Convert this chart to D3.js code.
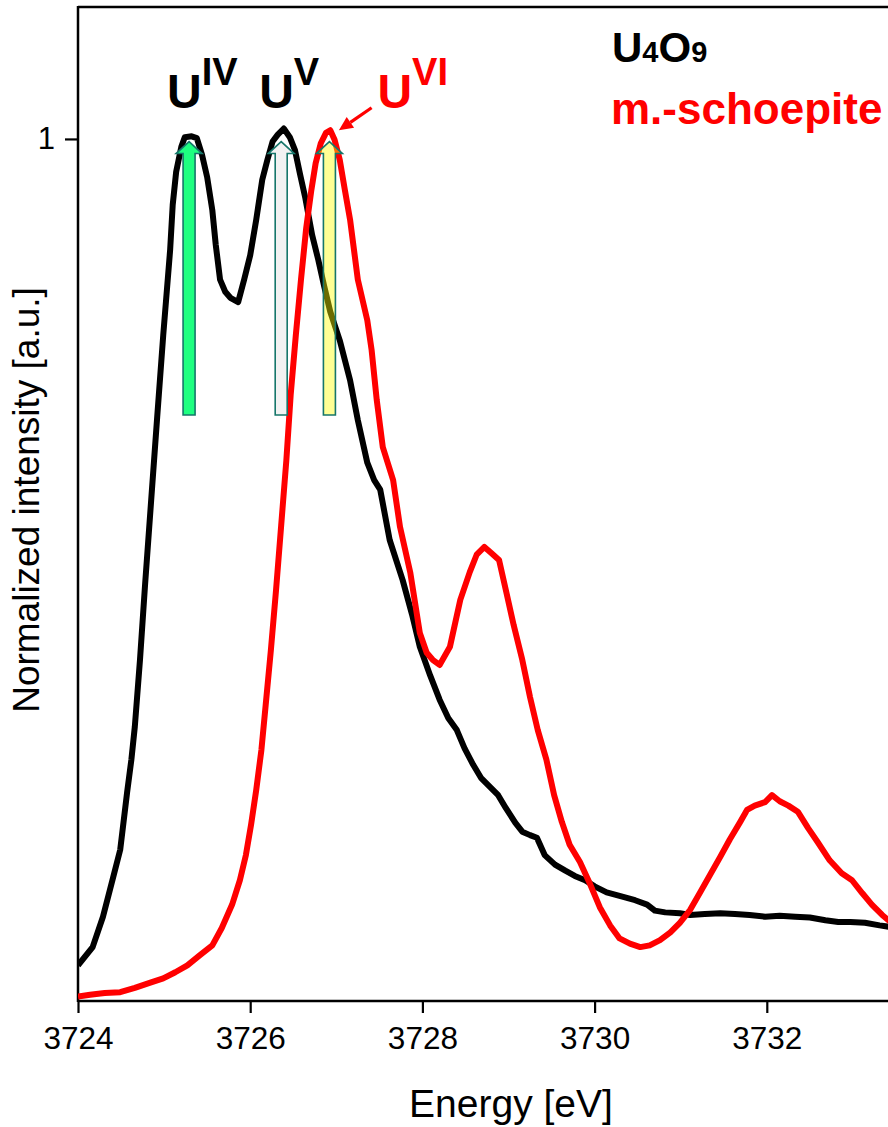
<!DOCTYPE html>
<html><head><meta charset="utf-8">
<script src="https://cdn.jsdelivr.net/npm/d3@7"></script>
<style>
html,body{margin:0;padding:0;background:#fff;}
svg{display:block;font-family:"Liberation Sans",Arial,Helvetica,sans-serif;}
</style></head><body>
<svg id="chart" width="888" height="1127"></svg>
<script>
// U4O9 spectrum (black)
const energyU4O9 = [3724.00,3724.17,3724.29,3724.41,3724.49,3724.57,3724.62,3724.66,3724.72,3724.78,3724.85,3724.92,3724.99,3725.07,3725.10,3725.14,3725.20,3725.24,3725.32,3725.38,3725.44,3725.50,3725.56,3725.60,3725.65,3725.71,3725.77,3725.86,3725.93,3726.00,3726.07,3726.14,3726.20,3726.26,3726.32,3726.39,3726.46,3726.52,3726.58,3726.64,3726.72,3726.79,3726.86,3726.93,3727.04,3727.16,3727.25,3727.36,3727.44,3727.51,3727.62,3727.77,3727.88,3727.97,3728.09,3728.20,3728.30,3728.40,3728.49,3728.59,3728.68,3728.79,3728.88,3728.97,3729.08,3729.16,3729.25,3729.33,3729.42,3729.54,3729.66,3729.77,3729.89,3730.00,3730.14,3730.29,3730.47,3730.61,3730.70,3730.82,3730.99,3731.11,3731.28,3731.46,3731.63,3731.80,3731.98,3732.15,3732.33,3732.50,3732.68,3732.83,3732.97,3733.14,3733.31,3733.45];
const intensityU4O9 = [0.048,0.069,0.104,0.150,0.181,0.247,0.285,0.323,0.400,0.488,0.584,0.680,0.774,0.872,0.924,0.962,0.991,1.002,1.003,1.001,0.982,0.956,0.918,0.878,0.838,0.824,0.817,0.812,0.838,0.866,0.907,0.953,0.976,0.997,1.005,1.012,1.002,0.987,0.959,0.932,0.889,0.861,0.830,0.801,0.768,0.722,0.676,0.627,0.607,0.596,0.538,0.492,0.452,0.415,0.382,0.354,0.333,0.319,0.298,0.279,0.264,0.253,0.244,0.229,0.212,0.202,0.198,0.195,0.175,0.164,0.157,0.151,0.146,0.139,0.132,0.128,0.123,0.118,0.111,0.109,0.108,0.106,0.107,0.108,0.107,0.106,0.104,0.105,0.104,0.103,0.100,0.098,0.098,0.097,0.094,0.092];

// metaschoepite spectrum (red)
const energySchoepite = [3724.00,3724.14,3724.31,3724.49,3724.66,3724.84,3724.99,3725.13,3725.27,3725.42,3725.56,3725.67,3725.79,3725.88,3725.95,3726.01,3726.07,3726.13,3726.18,3726.24,3726.30,3726.36,3726.42,3726.47,3726.53,3726.59,3726.65,3726.71,3726.76,3726.82,3726.88,3726.93,3726.98,3727.04,3727.10,3727.16,3727.25,3727.36,3727.41,3727.47,3727.54,3727.66,3727.74,3727.86,3727.97,3728.05,3728.12,3728.20,3728.32,3728.44,3728.55,3728.63,3728.72,3728.80,3728.89,3728.97,3729.06,3729.16,3729.25,3729.34,3729.44,3729.53,3729.62,3729.71,3729.83,3729.95,3730.06,3730.18,3730.29,3730.41,3730.53,3730.64,3730.76,3730.88,3730.99,3731.11,3731.22,3731.34,3731.46,3731.57,3731.69,3731.77,3731.86,3731.98,3732.06,3732.15,3732.25,3732.36,3732.48,3732.59,3732.73,3732.87,3732.99,3733.11,3733.22,3733.34,3733.45];
const intensitySchoepite = [0.012,0.014,0.016,0.017,0.022,0.028,0.033,0.040,0.048,0.060,0.071,0.091,0.118,0.146,0.175,0.210,0.250,0.296,0.348,0.411,0.480,0.555,0.630,0.705,0.774,0.838,0.897,0.941,0.972,0.995,1.007,1.010,0.999,0.976,0.941,0.907,0.838,0.791,0.757,0.699,0.645,0.607,0.553,0.500,0.431,0.408,0.400,0.394,0.415,0.469,0.501,0.521,0.530,0.523,0.515,0.480,0.440,0.400,0.357,0.319,0.285,0.244,0.213,0.187,0.167,0.141,0.115,0.094,0.079,0.073,0.069,0.071,0.077,0.086,0.097,0.112,0.131,0.152,0.173,0.193,0.213,0.227,0.232,0.236,0.244,0.237,0.232,0.225,0.206,0.190,0.169,0.154,0.146,0.131,0.118,0.106,0.097];

// axis ticks
const xTickValues = [3724, 3726, 3728, 3730, 3732];
const xMinorTicks = [3725, 3727, 3729, 3731, 3733];
const yTickValues = [1];
const yMinorTicks = [0.5];

// oxidation-state marker arrows (energy positions, base and tip intensity)
const stateNames = ["IV", "V", "VI"];
const stateEnergies = [3725.29, 3726.36, 3726.92];
const arrowBase = 0.682;
const arrowTip = 0.997;

// legend
const seriesNames = ["U4O9", "m.-schoepite"];

const svg = d3.select("#chart");
const plotLeft = 78, plotTop = 7, plotBottom = 1001;
const FONT = '"Liberation Sans",Arial,Helvetica,sans-serif';

const x = d3.scaleLinear().domain([3724, 3734]).range([plotLeft, plotLeft + 861]);
const y = d3.scaleLinear().domain([0.0069, 1.152]).range([plotBottom, plotTop]);

svg.append("clipPath").attr("id", "plotClip")
  .append("rect").attr("x", plotLeft).attr("y", plotTop).attr("width", 900).attr("height", plotBottom - plotTop);

// frame top line
svg.append("line").attr("x1", plotLeft).attr("x2", 888).attr("y1", plotTop).attr("y2", plotTop)
  .attr("stroke", "#000").attr("stroke-width", 2.5);

// x axis
const xAxisG = svg.append("g").attr("transform", `translate(0,${plotBottom})`);
xAxisG.call(d3.axisBottom(x).tickValues(xMinorTicks).tickSize(7).tickFormat(""));
xAxisG.call(d3.axisBottom(x).tickValues(xTickValues).tickSize(12).tickPadding(14).tickFormat(d3.format("d")));
xAxisG.selectAll(".domain").remove();
xAxisG.append("line").attr("x1", plotLeft).attr("x2", 888).attr("stroke", "#000").attr("stroke-width", 2.5);
xAxisG.selectAll(".tick line").attr("stroke", "#000").attr("stroke-width", 2.2);
xAxisG.selectAll(".tick text").attr("font-size", 31.5).attr("font-family", FONT).attr("fill", "#000");

// y axis
const yAxisG = svg.append("g").attr("transform", `translate(${plotLeft},0)`);
yAxisG.call(d3.axisLeft(y).tickValues(yMinorTicks).tickSize(6).tickFormat(""));
yAxisG.call(d3.axisLeft(y).tickValues(yTickValues).tickSize(13).tickPadding(10).tickFormat(d3.format("d")));
yAxisG.selectAll(".domain").remove();
yAxisG.append("line").attr("y1", plotTop - 1).attr("y2", plotBottom + 1).attr("stroke", "#000").attr("stroke-width", 2.5);
yAxisG.selectAll(".tick line").attr("stroke", "#000").attr("stroke-width", 2.2);
yAxisG.selectAll(".tick text").attr("font-size", 31).attr("font-family", FONT).attr("fill", "#000");

// axis titles
svg.append("text").attr("x", 511).attr("y", 1117).attr("text-anchor", "middle")
  .attr("font-size", 39).attr("fill", "#000").text("Energy [eV]");
svg.append("text").attr("transform", "translate(39,500) rotate(-90)").attr("text-anchor", "middle")
  .attr("font-size", 37).attr("fill", "#000").text("Normalized intensity [a.u.]");

// spectra
const line = d3.line().x(d => x(d[0])).y(d => y(d[1])).curve(d3.curveLinear);
const plot = svg.append("g").attr("clip-path", "url(#plotClip)");
const u4o9 = d3.zip(energyU4O9, intensityU4O9);
const schoepite = d3.zip(energySchoepite, intensitySchoepite);
plot.append("path").datum(u4o9).attr("d", line)
  .attr("fill", "none").attr("stroke", "#000").attr("stroke-width", 6)
  .attr("stroke-linejoin", "round");
plot.append("path").datum(schoepite).attr("d", line)
  .attr("fill", "none").attr("stroke", "#ff0000").attr("stroke-width", 6)
  .attr("stroke-linejoin", "round");

// block arrows marking the U(IV), U(V), U(VI) white-line positions
const arrowFills = ["#1eff80", "#f2f2f2", "#ffff00"];
const arrowOpacity = [1, 1, 0.42];
const shaftHalf = 6, headHalf = 13, headLen = 12;
stateEnergies.forEach((e, i) => {
  const cx = x(e), yb = y(arrowBase), yt = y(arrowTip), yh = yt + headLen;
  const pts = [
    [cx - shaftHalf, yb], [cx - shaftHalf, yh], [cx - headHalf, yh], [cx, yt],
    [cx + headHalf, yh], [cx + shaftHalf, yh], [cx + shaftHalf, yb]
  ];
  svg.append("polygon").attr("points", pts.map(p => p.join(",")).join(" "))
    .attr("fill", arrowFills[i]).attr("fill-opacity", arrowOpacity[i])
    .attr("stroke", "#16766a").attr("stroke-width", 1.6).attr("stroke-linejoin", "miter");
});

// oxidation-state labels
const labelColors = ["#000", "#000", "#ff0000"];
const labelOffsets = [-22, -22, 48];
stateNames.forEach((n, i) => {
  const t = svg.append("text").attr("x", x(stateEnergies[i]) + labelOffsets[i]).attr("y", 108)
    .attr("font-size", 48).attr("font-weight", "bold").attr("fill", labelColors[i]);
  t.append("tspan").text("U");
  t.append("tspan").attr("dy", -23).attr("font-size", 38).text(n);
});

// small pointer from the U(VI) label to the metaschoepite maximum
{
  const x0 = x(3727.41), y0 = y(1.036), x1 = x(3727.03), y1 = y(1.010);
  const dx = x1 - x0, dy = y1 - y0, len = Math.hypot(dx, dy);
  const ux = dx / len, uy = dy / len, hl = 14, hw = 6.5;
  const bx = x1 - ux * hl, by = y1 - uy * hl;
  svg.append("line").attr("x1", x0).attr("y1", y0).attr("x2", bx).attr("y2", by)
    .attr("stroke", "#ff0000").attr("stroke-width", 3.2);
  svg.append("polygon")
    .attr("points", [[x1, y1], [bx - uy * hw, by + ux * hw], [bx + uy * hw, by - ux * hw]].map(p => p.join(",")).join(" "))
    .attr("fill", "#ff0000");
}

// legend
const lg1 = svg.append("text").attr("x", 612).attr("y", 62).attr("font-weight", "bold").attr("fill", "#000");
lg1.append("tspan").attr("font-size", 42).text("U");
lg1.append("tspan").attr("font-size", 29).text("4");
lg1.append("tspan").attr("font-size", 42).text("O");
lg1.append("tspan").attr("font-size", 29).text("9");
svg.append("text").attr("x", 611).attr("y", 124).attr("font-weight", "bold")
  .attr("font-size", 44).attr("fill", "#ff0000").text(seriesNames[1]);
</script>
</body></html>
